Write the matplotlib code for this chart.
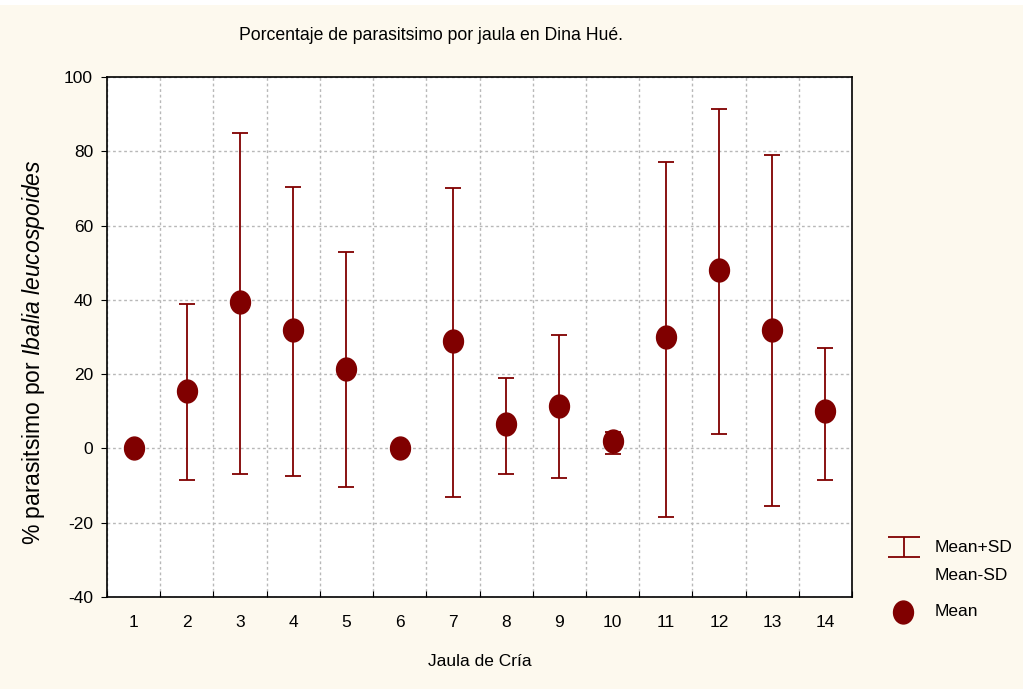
import numpy as np
import matplotlib
matplotlib.use("Agg")
import matplotlib.pyplot as plt
from matplotlib.path import Path
from matplotlib.patches import Rectangle
from matplotlib.lines import Line2D

# datos
jaulas = [1, 2, 3, 4, 5, 6, 7, 8, 9, 10, 11, 12, 13, 14]
media = [0, 15.5, 39.5, 32, 21.5, 0, 29, 6.5, 11.5, 2, 30, 48, 32, 10]
media_mas_sd = [0, 39, 85, 70.5, 53, 0, 70, 19, 30.5, 4.5, 77, 91.5, 79, 27]
media_menos_sd = [0, -8.5, -7, -7.5, -10.5, 0, -13, -7, -8, -1.5, -18.5, 4, -15.5, -8.5]

color = "#800000"
fondo = "#fdf9ee"

plt.rcParams['font.family'] = ['Liberation Sans Narrow', 'Liberation Sans', 'DejaVu Sans']
plt.rcParams['mathtext.fontset'] = 'custom'
plt.rcParams['mathtext.it'] = 'Liberation Sans:italic'
plt.rcParams['mathtext.rm'] = 'Liberation Sans'
plt.rcParams['axes.unicode_minus'] = False

fig = plt.figure(figsize=(10.23, 6.89), dpi=100, facecolor=fondo)
fig.patches.append(Rectangle((0, 0.993), 1, 0.007, transform=fig.transFigure,
                             facecolor="white", edgecolor="none"))
ax = fig.add_axes([107/1023, 1-597/689, 745/1023, 520/689])
ax.set_facecolor("white")

# elipse un poco mas alta que ancha
circulo = Path.unit_circle()
elipse = Path(circulo.vertices * np.array([1.0, 1.15]), circulo.codes)

x = np.array(jaulas)
m = np.array(media)
err = [m - np.array(media_menos_sd), np.array(media_mas_sd) - m]
ax.errorbar(x, m, yerr=err, fmt="none", ecolor=color, elinewidth=1.3,
            capsize=6, capthick=1.3, zorder=3)
ax.plot(x, m, linestyle="none", marker=elipse, markersize=16.5,
        color=color, zorder=4)

ax.set_xlim(0.5, 14.5)
ax.set_ylim(-40, 100)
ax.set_xticks(np.arange(0.5, 15, 1))
ax.set_xticklabels([])
ax.set_xticks(jaulas, minor=True)
ax.set_xticklabels([str(j) for j in jaulas], minor=True)
ax.tick_params(axis="x", which="minor", length=0, pad=13, labelsize=12.5)
ax.tick_params(axis="x", which="major", direction="in", length=4)
ax.set_yticks(range(-40, 101, 20))
ax.tick_params(axis="y", direction="out", length=4, labelsize=12.5, pad=6)
ax.grid(True, which="major", linestyle=(0, (2, 2)), color="#b8b8b8", linewidth=1)
for s in ax.spines.values():
    s.set_linewidth(1.2)

fig.text(431/1023, 1-35/689, "Porcentaje de parasitsimo por jaula en Dina Hué.",
         ha="center", va="center", fontsize=12.7)
fig.text(480/1023, 1-662/689, "Jaula de Cría", ha="center", va="center", fontsize=12.5)
ax.set_ylabel("% parasitsimo por $\\it{Ibalia\\ leucospoides}$", fontsize=16.5,
              family="Liberation Sans")
ax.yaxis.set_label_coords(-0.081, 0.47)

# leyenda a mano, fuera del area del grafico
simbolo_sd = Path([(-1, 0.62), (1, 0.62), (0, 0.62), (0, -0.62), (-1, -0.62), (1, -0.62)],
                  [Path.MOVETO, Path.LINETO, Path.MOVETO, Path.LINETO, Path.MOVETO, Path.LINETO])
fig.add_artist(Line2D([904/1023], [1-547/689], transform=fig.transFigure,
                      marker=simbolo_sd, markersize=23, markeredgewidth=1.3,
                      markeredgecolor=color, markerfacecolor="none", linestyle="none"))
fig.add_artist(Line2D([903/1023], [1-612/689], transform=fig.transFigure,
                      marker=elipse, markersize=16.5, color=color, linestyle="none"))
fig.text(935/1023, 1-548/689, "Mean+SD", va="center", fontsize=12.5)
fig.text(935/1023, 1-576/689, "Mean-SD", va="center", fontsize=12.5)
fig.text(935/1023, 1-612/689, "Mean", va="center", fontsize=12.5)

fig.savefig("out.png", dpi=100, facecolor=fondo)
